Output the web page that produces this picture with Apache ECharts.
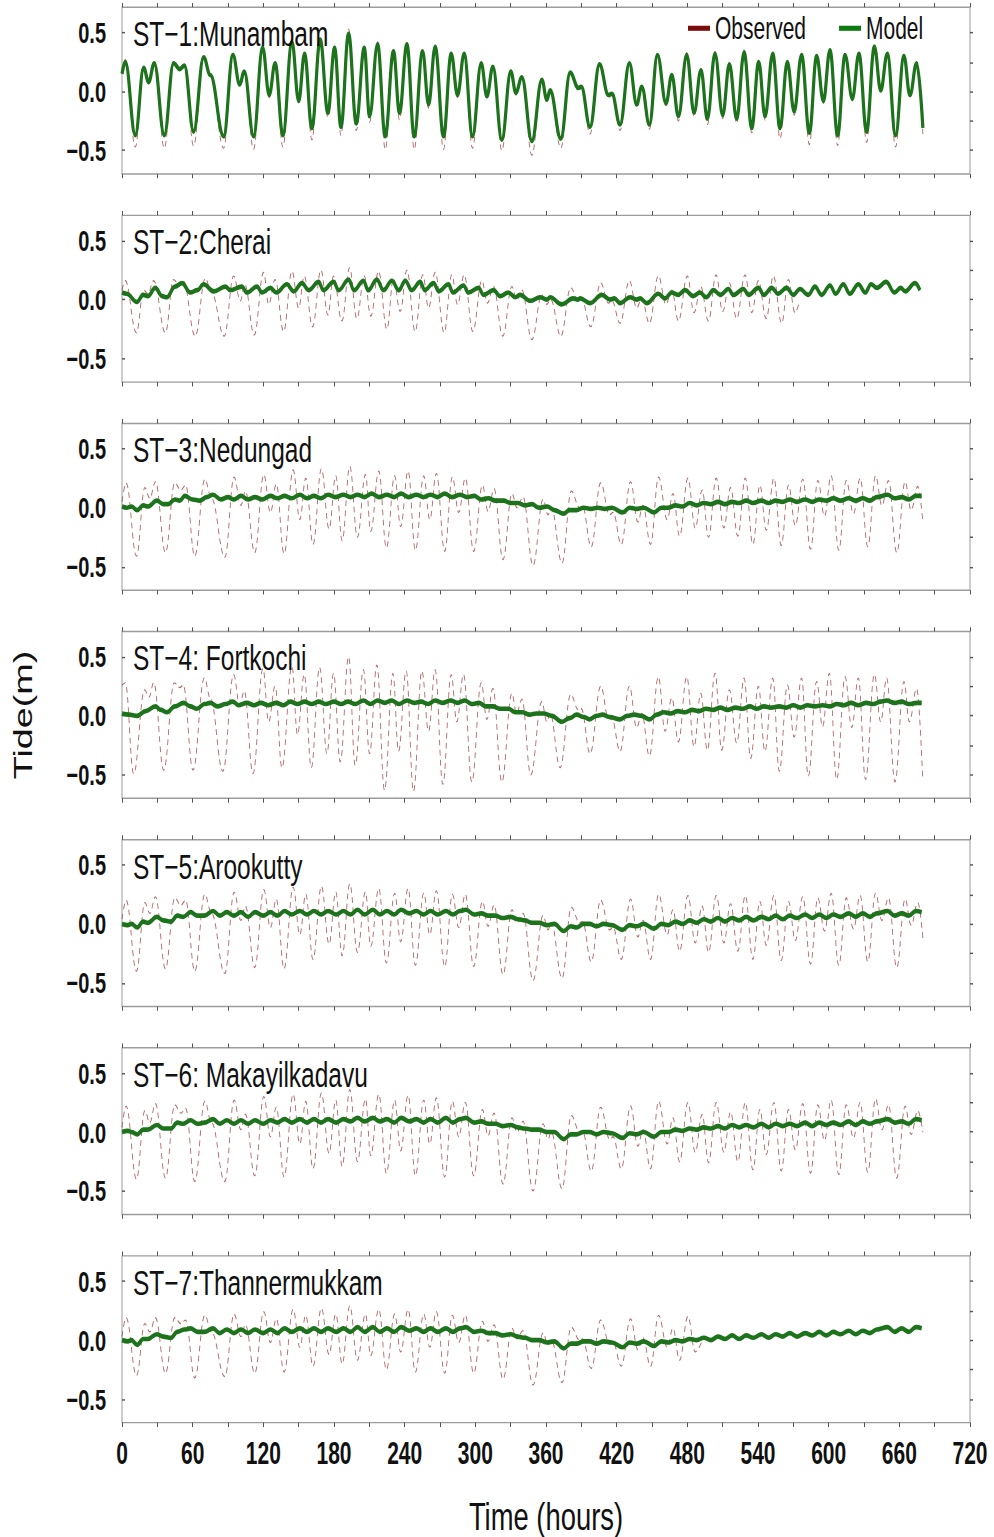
<!DOCTYPE html>
<html>
<head>
<meta charset="utf-8">
<title>Tide comparison, ST-1 to ST-7</title>
<script src="https://cdn.jsdelivr.net/npm/echarts@6/dist/echarts.min.js"></script>
<style>
  html { margin: 0; padding: 0; overflow: hidden; background: #ffffff; }
  body { margin: 0; padding: 0; width: 994px; height: 1537px; background: #ffffff; }
  /* The figure is laid out in a compressed frame and stretched vertically,
     which gives the tall lettering of the printed figure. */
  #chart { width: 994px; height: 1060px; transform: scaleY(1.45); transform-origin: 0 0; }
</style>
</head>
<body>
<div id="chart"></div>
<script>
// ---------------- axis settings and tick labels ----------------
const X_MIN = 0, X_MAX = 720, X_STEP = 60;
const Y_MIN = -0.7, Y_MAX = 0.715;
const yLabelValues = [-0.5, 0, 0.5];
const yRightTickValues = [-0.5, -0.25, 0, 0.25, 0.5];
const legendNames = ['Observed', 'Model'];
const xAxisTitle = 'Time (hours)';
const yAxisTitle = 'Tide(m)';

const stationNames = [
  'ST\u22121:Munambam',
  'ST\u22122:Cherai',
  'ST\u22123:Nedungad',
  'ST\u22124: Fortkochi',
  'ST\u22125:Arookutty',
  'ST\u22126: Makayilkadavu',
  'ST\u22127:Thannermukkam'
];

// ---------------- tide series: [hour, level (m)] at turning points ----------------
const st1Observed = [[0,0.16],[2.8,0.27],[11.3,-0.47],[18.4,0.21],[22.6,0.08],[27.4,0.25],[35.9,-0.48],[43.8,0.25],[49,0.19],[53,0.23],[60.8,-0.46],[69.3,0.30],[75,0.14],[86.3,-0.48],[94.2,0.33],[99.9,0.05],[103.8,0.18],[111.7,-0.49],[119.4,0.38],[125,-0.05],[130,0.25],[136.6,-0.47],[144.3,0.44],[150,-0.10],[155,0.33],[161.2,-0.41],[168.3,0.46],[174.8,-0.22],[180.5,0.38],[185.9,-0.37],[192.4,0.53],[198.9,-0.33],[205.7,0.38],[210.2,-0.26],[217,0.42],[223.5,-0.49],[230.5,0.35],[235.6,-0.24],[241.9,0.41],[248.1,-0.49],[255.2,0.35],[260.3,-0.14],[265.9,0.39],[273,-0.49],[279.5,0.33],[284.9,-0.05],[290.5,0.33],[297.6,-0.48],[305,0.25],[309.8,-0.06],[314.9,0.22],[322.5,-0.50],[330.1,0.18],[334.4,-0.03],[339.5,0.13],[348,-0.54],[356.5,0.11],[360.7,-0.09],[363.5,0.01],[372.6,-0.48],[380.5,0.17],[387.5,0.02],[390,0.03],[397.4,-0.36],[405.4,0.24],[413,-0.05],[416,-0.03],[422.9,-0.33],[430.8,0.25],[437,-0.13],[441.3,0.03],[447.8,-0.32],[454.6,0.33],[461.9,-0.12],[466.8,0.15],[472.4,-0.25],[479.5,0.33],[485.7,-0.21],[491.6,0.19],[497,-0.28],[503.5,0.34],[510,-0.23],[515.7,0.24],[521.9,-0.27],[528.2,0.35],[534.7,-0.35],[540.6,0.26],[546,-0.24],[552.5,0.33],[558.7,-0.40],[564.9,0.26],[570.7,-0.20],[577,0.32],[583.6,-0.45],[589.8,0.31],[595.5,-0.10],[601.1,0.36],[607.6,-0.46],[613.9,0.32],[620.1,-0.08],[625.7,0.33],[632.2,-0.43],[638.8,0.40],[644.2,0.00],[649.8,0.33],[656.8,-0.47],[663.9,0.31],[669,-0.05],[674.7,0.25],[680,-0.36]];
const st1Model = [[0,0.15],[2.8,0.25],[11.3,-0.37],[18.4,0.20],[22.6,0.08],[27.4,0.24],[35.9,-0.37],[43.8,0.24],[49,0.19],[53,0.22],[60.8,-0.34],[69.3,0.29],[75,0.14],[86.3,-0.38],[94.2,0.31],[99.9,0.06],[103.8,0.17],[111.7,-0.38],[119.4,0.37],[125,-0.03],[130,0.24],[136.6,-0.37],[144.3,0.42],[150,-0.08],[155,0.32],[161.2,-0.31],[168.3,0.44],[174.8,-0.18],[180.5,0.37],[185.9,-0.30],[192.4,0.49],[198.9,-0.27],[205.7,0.37],[210.2,-0.21],[217,0.40],[223.5,-0.38],[230.5,0.34],[235.6,-0.18],[241.9,0.40],[248.1,-0.38],[255.2,0.34],[260.3,-0.11],[265.9,0.38],[273,-0.38],[279.5,0.32],[284.9,-0.03],[290.5,0.32],[297.6,-0.38],[305,0.24],[309.8,-0.04],[314.9,0.21],[322.5,-0.41],[330.1,0.17],[334.4,-0.01],[339.5,0.12],[348,-0.42],[356.5,0.10],[360.7,-0.07],[363.5,0.01],[372.6,-0.40],[380.5,0.16],[387.5,0.03],[390,0.04],[397.4,-0.30],[405.4,0.23],[413,-0.03],[416,-0.02],[422.9,-0.28],[430.8,0.24],[437,-0.11],[441.3,0.04],[447.8,-0.28],[454.6,0.31],[461.9,-0.10],[466.8,0.14],[472.4,-0.21],[479.5,0.31],[485.7,-0.18],[491.6,0.18],[497,-0.23],[503.5,0.32],[510,-0.20],[515.7,0.23],[521.9,-0.23],[528.2,0.33],[534.7,-0.31],[540.6,0.25],[546,-0.21],[552.5,0.32],[558.7,-0.31],[564.9,0.25],[570.7,-0.17],[577,0.31],[583.6,-0.35],[589.8,0.30],[595.5,-0.08],[601.1,0.35],[607.6,-0.37],[613.9,0.31],[620.1,-0.06],[625.7,0.32],[632.2,-0.34],[638.8,0.38],[644.2,0.01],[649.8,0.32],[656.8,-0.37],[663.9,0.30],[669,-0.03],[674.7,0.24],[680,-0.31]];

const st2Observed = [[0,0.08],[2.8,0.16],[12.2,-0.28],[18.4,0.08],[22,0.05],[26.9,0.16],[36.8,-0.28],[43.8,0.17],[49,0.12],[52,0.16],[62.2,-0.31],[70.7,0.18],[76,0.06],[86.8,-0.31],[94.8,0.20],[100.5,-0.01],[104.2,0.13],[112.3,-0.30],[120.2,0.23],[124.5,-0.04],[130,0.17],[137.2,-0.27],[144.3,0.24],[150,-0.07],[154.7,0.20],[161.8,-0.23],[168.9,0.25],[174.8,-0.13],[179.6,0.20],[186.7,-0.18],[193.2,0.27],[199.4,-0.16],[205.7,0.20],[211.3,-0.14],[217.8,0.24],[224.9,-0.25],[230.5,0.18],[236.2,-0.10],[241.9,0.25],[248.9,-0.27],[255.4,0.21],[260.3,-0.07],[265.9,0.23],[273.5,-0.28],[280,0.21],[284.9,-0.04],[290.5,0.21],[297.9,-0.27],[305.5,0.16],[310.3,-0.03],[315.4,0.11],[323.3,-0.31],[331,0.11],[335.2,0.00],[339.5,0.08],[348,-0.34],[356.4,0.04],[360.7,-0.04],[364,0.00],[372.6,-0.31],[381,0.10],[387.5,-0.01],[390,0.01],[398,-0.23],[406.5,0.14],[413,-0.03],[416,-0.01],[422.9,-0.20],[430.8,0.16],[437,-0.07],[441.3,0.01],[447.8,-0.20],[455.4,0.20],[461.9,-0.04],[466.8,0.08],[472.4,-0.18],[480,0.20],[485.7,-0.11],[491.4,0.11],[497.9,-0.18],[504.4,0.21],[510,-0.10],[515.7,0.14],[521.9,-0.16],[529,0.21],[534.7,-0.11],[540.3,0.16],[547,-0.16],[553,0.20],[560.1,-0.20],[565.8,0.17],[571.4,-0.11],[575,-0.02]];
const st2Model = [[0,0.06],[4,0.05],[12.7,-0.02],[18,0.04],[22,0.03],[28.3,0.10],[34,0.03],[38,0.02],[45,0.11],[51,0.14],[58,0.06],[64,0.08],[69.3,0.13],[78,0.07],[87.7,0.11],[92,0.08],[101.8,0.11],[106,0.06],[114.6,0.11],[119,0.06],[126,0.10],[131,0.06],[140,0.13],[145.7,0.07],[152.8,0.14],[158.4,0.08],[166.9,0.15],[171,0.08],[179.6,0.15],[184,0.08],[192.4,0.17],[197,0.08],[205,0.16],[209,0.08],[216.4,0.17],[222,0.08],[229.1,0.16],[235,0.08],[240.5,0.16],[246,0.08],[253.2,0.15],[257,0.08],[264.5,0.14],[269,0.07],[277.2,0.13],[281,0.06],[290,0.12],[294,0.06],[302.7,0.10],[307,0.04],[315.4,0.08],[321,0.03],[328,0.06],[334,0.02],[338,0.04],[346.6,-0.01],[355,0.02],[360.7,0.00],[363.5,0.02],[373.4,-0.04],[383,0.01],[387,0.00],[389,0.01],[397.4,-0.03],[407.4,0.04],[414.4,0.00],[418,0.01],[422.9,-0.03],[431.4,0.02],[437,0.00],[440,0.01],[445.5,-0.03],[455.4,0.05],[461.1,0.01],[466.8,0.06],[472,0.04],[478,0.08],[485,0.03],[490.8,0.06],[496,0.02],[502.2,0.08],[508,0.04],[514.9,0.09],[519,0.04],[527.6,0.09],[532,0.04],[540.3,0.10],[545,0.04],[551.6,0.10],[557,0.05],[564.3,0.10],[570,0.04],[575.6,0.09],[582.7,0.04],[588.4,0.11],[594,0.04],[601.1,0.12],[606,0.05],[612.4,0.13],[618,0.05],[625.2,0.13],[631,0.06],[636,0.13],[641,0.10],[648.8,0.15],[655.9,0.06],[661,0.10],[665,0.07],[673.3,0.14],[677.5,0.08]];

const st3Observed = [[0,0.05],[3.5,0.21],[12.3,-0.41],[19.4,0.17],[23.6,0.08],[28.4,0.22],[36.9,-0.38],[44.8,0.21],[50,0.15],[54,0.19],[61.8,-0.41],[70.3,0.24],[76,0.08],[87.3,-0.42],[95.2,0.26],[100.9,0.02],[104.8,0.14],[112.7,-0.38],[120.4,0.28],[126,-0.04],[131,0.20],[137.6,-0.39],[145.3,0.32],[151,-0.10],[156,0.25],[162.2,-0.31],[169.3,0.33],[175.8,-0.18],[181.5,0.27],[186.9,-0.28],[193.4,0.35],[199.9,-0.25],[206.7,0.28],[211.2,-0.20],[218,0.31],[224.5,-0.34],[231.5,0.27],[236.6,-0.16],[242.9,0.31],[249.1,-0.36],[256.2,0.27],[261.3,-0.10],[266.9,0.29],[274,-0.37],[280.5,0.26],[285.9,-0.04],[291.5,0.25],[298.6,-0.37],[306,0.19],[310.8,-0.03],[315.9,0.16],[323.5,-0.44],[331.1,0.12],[335.4,0.00],[340.5,0.09],[349,-0.49],[357.5,0.07],[361.7,-0.06],[364.5,0.00],[373.6,-0.47],[381.5,0.14],[388.5,0.00],[391,0.01],[398.4,-0.33],[406.4,0.21],[414,-0.06],[417,-0.04],[423.9,-0.31],[431.8,0.22],[438,-0.12],[442.3,0.02],[448.8,-0.31],[455.6,0.26],[462.9,-0.10],[467.8,0.12],[473.4,-0.24],[480.5,0.25],[486.7,-0.17],[492.6,0.15],[498,-0.25],[504.5,0.25],[511,-0.17],[516.7,0.17],[522.9,-0.24],[529.2,0.25],[535.7,-0.31],[541.6,0.19],[547,-0.19],[553.5,0.25],[559.7,-0.32],[565.9,0.19],[571.7,-0.15],[578,0.24],[584.6,-0.35],[590.8,0.23],[596.5,-0.07],[602.1,0.27],[608.6,-0.36],[614.9,0.23],[621.1,-0.05],[626.7,0.25],[633.2,-0.33],[639.8,0.27],[645.2,0.02],[650.8,0.23],[657.8,-0.38],[664.9,0.22],[670,-0.02],[675.7,0.18],[680,-0.13]];
const st3Model = [[0,0.01],[4,0.00],[8,0.01],[12.9,-0.02],[18,0.02],[22,0.01],[29.6,0.06],[35,0.03],[39,0.03],[45,0.07],[49,0.06],[53.4,0.10],[60,0.07],[66,0.06],[72,0.09],[77.3,0.11],[84,0.07],[90,0.09],[95,0.07],[101,0.10],[107,0.07],[113,0.09],[119,0.07],[126,0.10],[132,0.08],[138,0.10],[144,0.08],[151,0.11],[157,0.08],[163,0.10],[169,0.08],[175,0.11],[181,0.09],[188,0.11],[194,0.09],[200,0.11],[206,0.09],[212,0.12],[218,0.09],[225,0.11],[231,0.09],[237,0.12],[243,0.09],[250,0.11],[256,0.09],[262,0.11],[268,0.09],[274,0.12],[280,0.09],[287,0.11],[293,0.09],[299,0.10],[305,0.07],[311,0.08],[317,0.06],[324,0.06],[330,0.04],[336,0.04],[342,0.02],[348,0.03],[354,0.00],[361,0.01],[367,-0.02],[375,-0.05],[380,-0.02],[386,-0.02],[392,0.00],[398,-0.01],[404,0.00],[410,-0.01],[416,0.00],[425,-0.04],[431,0.00],[437,-0.01],[443,0.00],[451.6,-0.04],[458,0.00],[464,0.00],[470,0.02],[476,0.01],[482,0.04],[488,0.02],[494,0.04],[500,0.03],[506,0.05],[512,0.03],[518,0.05],[524,0.04],[530,0.06],[536,0.04],[543,0.06],[549,0.04],[555,0.06],[561,0.05],[567,0.07],[573,0.05],[580,0.07],[586,0.05],[592,0.07],[598,0.06],[604,0.08],[610,0.06],[617,0.08],[623,0.06],[629,0.08],[635,0.06],[641,0.09],[650,0.11],[656,0.08],[662,0.09],[668,0.07],[674,0.10],[679,0.10]];

const st4Observed = [[0,0.26],[2.8,0.28],[9.9,-0.49],[19.2,0.22],[23,0.16],[26.9,0.28],[35.4,-0.46],[44.4,0.28],[49,0.24],[52,0.26],[60.3,-0.46],[69.9,0.32],[75,0.15],[85.7,-0.47],[94.8,0.35],[99.9,0.09],[103.8,0.21],[111.2,-0.49],[119.7,0.40],[124.5,-0.05],[130,0.25],[135.8,-0.44],[144.3,0.42],[149,-0.16],[154.7,0.35],[160.7,-0.44],[167.8,0.41],[174,-0.32],[179.6,0.36],[185.3,-0.39],[192.4,0.50],[198,-0.42],[205,0.39],[210.2,-0.32],[216.4,0.43],[222.9,-0.63],[230,0.36],[234.8,-0.30],[241.3,0.38],[247.5,-0.64],[254.6,0.38],[260.3,-0.13],[265.9,0.39],[272.4,-0.58],[279.5,0.35],[284.3,-0.05],[290,0.35],[297,-0.56],[305,0.28],[309.8,-0.03],[314.9,0.23],[322.5,-0.56],[331,0.19],[335,0.02],[339.5,0.14],[347.1,-0.50],[356.4,0.12],[360.7,-0.05],[363.5,0.02],[372,-0.44],[381,0.18],[387.5,0.05],[390,0.06],[397.4,-0.32],[406.5,0.25],[413,-0.02],[416,-0.03],[422.9,-0.30],[430.8,0.25],[437,-0.10],[441.3,0.02],[447.8,-0.34],[455.4,0.33],[461.1,-0.13],[466.8,0.15],[472.4,-0.22],[479.5,0.33],[485.7,-0.26],[491.4,0.19],[497,-0.29],[503.5,0.36],[509.2,-0.29],[515.7,0.22],[521.9,-0.23],[528.2,0.32],[533.8,-0.36],[540.3,0.25],[545.9,-0.30],[552.5,0.32],[558.1,-0.47],[565,0.26],[570.7,-0.18],[577,0.32],[582.7,-0.51],[589.8,0.29],[594.8,-0.09],[600.6,0.36],[606.8,-0.54],[613.9,0.33],[619.6,-0.10],[625.2,0.32],[631.3,-0.54],[638.8,0.35],[644.2,-0.05],[649.2,0.32],[656.3,-0.56],[663.9,0.29],[668.5,-0.05],[674.7,0.23],[679.8,-0.53]];
const st4Model = [[0,0.02],[6,0.01],[12.7,0.00],[20,0.04],[28.3,0.08],[33,0.05],[38.2,0.03],[45,0.08],[52.3,0.11],[58,0.08],[63.6,0.06],[70,0.10],[75,0.11],[81,0.08],[88,0.10],[94,0.12],[99,0.09],[106,0.11],[112,0.09],[118,0.11],[124,0.09],[131,0.11],[137,0.09],[143,0.12],[149,0.10],[155,0.12],[161,0.10],[167,0.12],[173,0.10],[180,0.12],[186,0.10],[192,0.12],[198,0.10],[205,0.13],[211,0.10],[217,0.13],[223,0.11],[229,0.13],[235,0.10],[242,0.13],[248,0.11],[254,0.12],[260,0.10],[266,0.13],[272,0.11],[279,0.13],[285,0.11],[291,0.13],[297,0.10],[303,0.11],[309,0.08],[315,0.08],[321,0.06],[328,0.06],[334,0.03],[340,0.03],[346,0.01],[352,0.02],[358,0.02],[365,0.00],[373.4,-0.05],[380,-0.02],[386,0.01],[392,-0.01],[397,-0.03],[403,0.00],[408,0.01],[414,-0.01],[423,-0.03],[429,0.00],[435,0.01],[441,0.00],[448,-0.03],[454,0.01],[460,0.03],[466,0.02],[472,0.04],[478,0.03],[484,0.05],[490,0.04],[496,0.06],[502,0.05],[508,0.07],[514,0.05],[521,0.07],[527,0.06],[533,0.08],[539,0.06],[545,0.08],[551,0.07],[558,0.08],[564,0.07],[570,0.09],[576,0.07],[582,0.09],[588,0.08],[595,0.09],[601,0.08],[607,0.10],[613,0.09],[619,0.11],[625,0.09],[632,0.11],[638,0.10],[644,0.12],[649,0.13],[656,0.11],[662,0.12],[668,0.10],[675,0.11],[679,0.11]];

const st5Observed = [[0,0.04],[3.5,0.20],[12.3,-0.40],[19.4,0.18],[23.6,0.09],[28.4,0.23],[36.9,-0.38],[44.8,0.22],[50,0.16],[54,0.20],[61.8,-0.40],[70.3,0.25],[76,0.09],[87.3,-0.42],[95.2,0.27],[100.9,0.03],[104.8,0.15],[112.7,-0.37],[120.4,0.29],[126,-0.03],[131,0.21],[137.6,-0.38],[145.3,0.31],[151,-0.09],[156,0.25],[162.2,-0.30],[169.3,0.32],[175.8,-0.17],[181.5,0.27],[186.9,-0.27],[193.4,0.34],[199.9,-0.24],[206.7,0.27],[211.2,-0.19],[218,0.30],[224.5,-0.33],[231.5,0.26],[236.6,-0.15],[242.9,0.30],[249.1,-0.35],[256.2,0.26],[261.3,-0.09],[266.9,0.28],[274,-0.36],[280.5,0.25],[285.9,-0.03],[291.5,0.25],[298.6,-0.36],[306,0.19],[310.8,-0.02],[315.9,0.16],[323.5,-0.43],[331.1,0.12],[335.4,0.01],[340.5,0.09],[349,-0.48],[357.5,0.07],[361.7,-0.05],[364.5,0.01],[373.6,-0.46],[381.5,0.14],[388.5,0.01],[391,0.02],[398.4,-0.32],[406.4,0.20],[414,-0.05],[417,-0.03],[423.9,-0.30],[431.8,0.21],[438,-0.11],[442.3,0.03],[448.8,-0.30],[455.6,0.25],[462.9,-0.09],[467.8,0.12],[473.4,-0.23],[480.5,0.24],[486.7,-0.16],[492.6,0.15],[498,-0.24],[504.5,0.24],[511,-0.16],[516.7,0.17],[522.9,-0.23],[529.2,0.24],[535.7,-0.30],[541.6,0.19],[547,-0.18],[553.5,0.24],[559.7,-0.31],[565.9,0.19],[571.7,-0.14],[578,0.23],[584.6,-0.34],[590.8,0.22],[596.5,-0.06],[602.1,0.26],[608.6,-0.35],[614.9,0.22],[621.1,-0.04],[626.7,0.24],[633.2,-0.32],[639.8,0.26],[645.2,0.03],[650.8,0.22],[657.8,-0.37],[664.9,0.21],[670,-0.01],[675.7,0.18],[680,-0.12]];
const st5Model = [[0,0.00],[5,-0.01],[8,0.00],[12.9,-0.03],[18,0.02],[22,0.01],[29.6,0.06],[35,0.03],[41.5,0.02],[47,0.07],[52,0.06],[58.2,0.10],[64,0.07],[70,0.07],[77.3,0.11],[83,0.07],[89,0.10],[95,0.07],[101,0.10],[107,0.06],[113,0.10],[120,0.07],[126,0.10],[132,0.07],[138,0.11],[144,0.08],[151,0.11],[157,0.08],[163,0.11],[169,0.08],[175,0.11],[182,0.08],[188,0.11],[194,0.08],[200,0.12],[206,0.08],[213,0.12],[219,0.08],[225,0.11],[231,0.08],[237,0.12],[244,0.09],[250,0.11],[256,0.08],[262,0.11],[268,0.08],[275,0.11],[281,0.08],[287,0.11],[292,0.12],[299,0.08],[305,0.09],[311,0.07],[317,0.07],[323,0.05],[330,0.06],[336,0.04],[342,0.03],[348,0.01],[354,0.01],[361,-0.01],[367,0.00],[375,-0.06],[381,-0.02],[386,-0.03],[392,0.00],[397,0.00],[403,-0.02],[409,0.00],[416,-0.01],[425,-0.05],[431,-0.01],[437,-0.02],[443,0.00],[451.6,-0.04],[458,0.00],[464,-0.01],[470,0.02],[476,0.00],[482,0.03],[488,0.01],[494,0.04],[500,0.02],[506,0.05],[512,0.02],[518,0.05],[524,0.03],[530,0.06],[536,0.03],[543,0.06],[549,0.04],[555,0.07],[561,0.04],[567,0.07],[573,0.05],[580,0.08],[586,0.05],[592,0.08],[598,0.05],[604,0.08],[610,0.06],[617,0.09],[623,0.06],[629,0.09],[635,0.06],[641,0.09],[650,0.11],[656,0.07],[662,0.09],[668,0.07],[674,0.11],[679,0.10]];

const st6Observed = [[0,0.04],[3.5,0.22],[12.3,-0.40],[19.4,0.18],[23.6,0.08],[28.4,0.24],[36.9,-0.39],[44.8,0.23],[50,0.16],[54,0.20],[61.8,-0.42],[70.3,0.26],[76,0.08],[87.3,-0.42],[95.2,0.27],[100.9,0.02],[104.8,0.15],[112.7,-0.37],[120.4,0.30],[126,-0.04],[131,0.21],[137.6,-0.38],[145.3,0.32],[151,-0.10],[156,0.26],[162.2,-0.31],[169.3,0.33],[175.8,-0.18],[181.5,0.27],[186.9,-0.29],[193.4,0.36],[199.9,-0.25],[206.7,0.28],[211.2,-0.20],[218,0.32],[224.5,-0.35],[231.5,0.27],[236.6,-0.16],[242.9,0.31],[249.1,-0.37],[256.2,0.27],[261.3,-0.10],[266.9,0.29],[274,-0.38],[280.5,0.26],[285.9,-0.04],[291.5,0.25],[298.6,-0.37],[306,0.19],[310.8,-0.03],[315.9,0.16],[323.5,-0.44],[331.1,0.12],[335.4,0.00],[340.5,0.09],[349,-0.50],[357.5,0.07],[361.7,-0.06],[364.5,0.00],[373.6,-0.48],[381.5,0.14],[388.5,0.00],[391,0.01],[398.4,-0.33],[406.4,0.21],[414,-0.06],[417,-0.04],[423.9,-0.31],[431.8,0.22],[438,-0.12],[442.3,0.02],[448.8,-0.31],[455.6,0.26],[462.9,-0.10],[467.8,0.12],[473.4,-0.25],[480.5,0.25],[486.7,-0.17],[492.6,0.15],[498,-0.26],[504.5,0.25],[511,-0.17],[516.7,0.17],[522.9,-0.25],[529.2,0.25],[535.7,-0.32],[541.6,0.19],[547,-0.19],[553.5,0.25],[559.7,-0.33],[565.9,0.19],[571.7,-0.15],[578,0.24],[584.6,-0.35],[590.8,0.23],[596.5,-0.07],[602.1,0.27],[608.6,-0.36],[614.9,0.23],[621.1,-0.05],[626.7,0.25],[633.2,-0.34],[639.8,0.28],[645.2,0.02],[650.8,0.23],[657.8,-0.39],[664.9,0.22],[670,-0.02],[675.7,0.18],[680,0.00]];
const st6Model = [[0,0.00],[5,0.01],[8,0.00],[12.9,-0.02],[18,0.02],[22,0.02],[29.6,0.06],[35,0.03],[41.5,0.03],[47,0.08],[52,0.07],[58.2,0.10],[64,0.07],[70,0.08],[77.3,0.11],[83,0.07],[89,0.10],[95,0.07],[101,0.10],[107,0.07],[113,0.10],[120,0.07],[126,0.10],[132,0.08],[138,0.11],[144,0.08],[151,0.11],[157,0.08],[163,0.11],[169,0.08],[175,0.11],[182,0.08],[188,0.11],[194,0.09],[200,0.12],[206,0.09],[213,0.12],[219,0.09],[225,0.11],[231,0.08],[237,0.12],[244,0.09],[250,0.11],[256,0.08],[262,0.11],[268,0.08],[275,0.12],[281,0.08],[287,0.11],[292,0.12],[299,0.08],[305,0.09],[311,0.07],[317,0.07],[323,0.05],[330,0.06],[336,0.04],[342,0.03],[348,0.02],[354,0.02],[361,0.00],[367,0.00],[375,-0.06],[381,-0.02],[386,-0.02],[392,0.00],[397,0.00],[403,-0.02],[409,0.00],[416,-0.01],[425,-0.05],[431,-0.01],[437,-0.02],[443,0.00],[451.6,-0.04],[458,0.00],[464,0.00],[470,0.02],[476,0.01],[482,0.03],[488,0.02],[494,0.04],[500,0.03],[506,0.05],[512,0.03],[518,0.06],[524,0.04],[530,0.06],[536,0.04],[543,0.07],[549,0.04],[555,0.07],[561,0.05],[567,0.07],[573,0.05],[580,0.08],[586,0.05],[592,0.08],[598,0.06],[604,0.08],[610,0.06],[617,0.09],[623,0.06],[629,0.09],[635,0.07],[641,0.09],[650,0.11],[656,0.08],[662,0.09],[668,0.07],[674,0.11],[679,0.10]];

const st7Observed = [[0,0.03],[3.5,0.19],[12.3,-0.30],[19.4,0.14],[23.6,0.07],[28.4,0.19],[36.9,-0.28],[44.8,0.19],[50,0.14],[54,0.17],[61.8,-0.32],[70.3,0.21],[76,0.07],[87.3,-0.31],[95.2,0.22],[100.9,0.03],[104.8,0.13],[112.7,-0.28],[120.4,0.24],[126,-0.02],[131,0.18],[137.6,-0.27],[145.3,0.26],[151,-0.06],[156,0.21],[162.2,-0.22],[169.3,0.27],[175.8,-0.12],[181.5,0.22],[186.9,-0.20],[193.4,0.29],[199.9,-0.17],[206.7,0.22],[211.2,-0.13],[218,0.26],[224.5,-0.25],[231.5,0.22],[236.6,-0.10],[242.9,0.26],[249.1,-0.27],[256.2,0.22],[261.3,-0.06],[266.9,0.24],[274,-0.28],[280.5,0.21],[285.9,-0.02],[291.5,0.21],[298.6,-0.28],[306,0.16],[310.8,-0.01],[315.9,0.13],[323.5,-0.33],[331.1,0.10],[335.4,0.01],[340.5,0.08],[349,-0.38],[357.5,0.06],[361.7,-0.04],[364.5,0.00],[373.6,-0.36],[381.5,0.11],[388.5,0.00],[391,0.01],[398.4,-0.24],[406.4,0.17],[414,-0.03],[417,-0.02],[423.9,-0.22],[431.8,0.18],[438,-0.08],[442.3,0.02],[448.8,-0.22],[455.6,0.21],[462.9,-0.06],[467.8,0.10],[473.4,-0.17],[480.5,0.20],[486.7,-0.10],[492,-0.02]];
const st7Model = [[0,0.00],[5,-0.01],[8,0.00],[12.9,-0.04],[18,0.01],[22,0.01],[29.6,0.05],[35,0.03],[41.5,0.02],[47,0.07],[53,0.09],[58.2,0.10],[64,0.07],[70,0.07],[77.3,0.10],[83,0.06],[89,0.09],[95,0.06],[101,0.09],[107,0.06],[113,0.09],[120,0.06],[126,0.09],[132,0.06],[138,0.10],[144,0.07],[151,0.10],[157,0.07],[163,0.10],[169,0.07],[175,0.10],[182,0.07],[188,0.10],[194,0.07],[200,0.11],[206,0.07],[213,0.11],[219,0.07],[225,0.10],[231,0.07],[237,0.11],[244,0.08],[250,0.10],[256,0.07],[262,0.10],[268,0.07],[275,0.10],[281,0.07],[287,0.10],[292,0.11],[299,0.07],[305,0.08],[311,0.06],[317,0.06],[323,0.04],[330,0.05],[336,0.03],[342,0.02],[348,0.00],[354,0.00],[361,-0.02],[367,-0.01],[375,-0.07],[381,-0.03],[386,-0.03],[392,-0.01],[397,-0.01],[403,-0.03],[409,-0.01],[416,-0.02],[425,-0.06],[431,-0.02],[437,-0.03],[443,-0.01],[451.6,-0.05],[458,-0.01],[464,-0.02],[470,0.00],[476,-0.01],[482,0.01],[488,0.00],[494,0.02],[500,0.00],[506,0.03],[512,0.01],[518,0.04],[524,0.01],[530,0.04],[536,0.02],[543,0.05],[549,0.02],[555,0.05],[561,0.03],[567,0.06],[573,0.03],[580,0.06],[586,0.04],[592,0.07],[598,0.04],[604,0.07],[610,0.05],[617,0.08],[623,0.05],[629,0.08],[635,0.06],[641,0.09],[650,0.11],[656,0.07],[662,0.10],[668,0.07],[674,0.11],[679,0.10]];

const observedSets = [st1Observed, st2Observed, st3Observed, st4Observed, st5Observed, st6Observed, st7Observed];
const modelSets = [st1Model, st2Model, st3Model, st4Model, st5Model, st6Model, st7Model];

// ---------------- layout (frame units, before the vertical stretch) ----------------
const PANEL_TOP0 = 5.0;
const PANEL_STEP = 143.52;
const PANEL_H = 115.0;
const GRID_LEFT = 122;
const GRID_RIGHT = 24;
const FONT = '"Liberation Sans", Arial, Helvetica, sans-serif';
const INK = '#111111';
const FRAME = '#9c9c9c';
const TICK = '#555555';
const OBS_LINE = 'rgba(160, 62, 62, 0.78)';
const OBS_KEY = '#7a0c0c';
const MODEL_LINE = '#1c731c';
const MODEL_KEY = '#0d7a0d';

const fmtLevel = v => (v < 0 ? '\u2212' : '') + Math.abs(v).toFixed(1);

const grids = [], xAxes = [], yAxes = [], titles = [], series = [];
const nPanels = stationNames.length;

for (let k = 0; k < nPanels; k++) {
  const top = PANEL_TOP0 + PANEL_STEP * k;
  grids.push({
    left: GRID_LEFT, right: GRID_RIGHT, top: top, height: PANEL_H,
    show: true, borderColor: FRAME, borderWidth: 1, backgroundColor: 'transparent',
    containLabel: false, outerBoundsMode: 'none'
  });
  titles.push({
    text: stationNames[k], left: 133, top: top + 5.5, padding: 0,
    textStyle: { fontFamily: FONT, fontSize: 24.5, fontWeight: 'normal', color: INK }
  });
}

const tickStyle = { color: TICK, width: 1 };

// bottom time axes (labels only under the last panel)
for (let k = 0; k < nPanels; k++) {
  const last = k === nPanels - 1;
  xAxes.push({
    type: 'value', gridIndex: k, position: 'bottom',
    min: X_MIN, max: X_MAX, interval: X_STEP,
    axisLine: { show: false, onZero: false },
    axisTick: { show: true, length: 3, lineStyle: tickStyle },
    minorTick: { show: true, splitNumber: 2, length: 3, lineStyle: tickStyle },
    splitLine: { show: false }, minorSplitLine: { show: false },
    axisLabel: { show: last, margin: 11, fontFamily: FONT, fontSize: 21, fontWeight: 'bold', color: INK },
    name: last ? xAxisTitle : '', nameLocation: 'middle', nameGap: 51,
    nameTextStyle: { fontFamily: FONT, fontSize: 27.4, color: INK }
  });
}
// top tick rows
for (let k = 0; k < nPanels; k++) {
  xAxes.push({
    type: 'value', gridIndex: k, position: 'top',
    min: X_MIN, max: X_MAX, interval: X_STEP,
    axisLine: { show: false, onZero: false },
    axisTick: { show: true, length: 3, lineStyle: tickStyle },
    minorTick: { show: true, splitNumber: 2, length: 3, lineStyle: tickStyle },
    splitLine: { show: false }, minorSplitLine: { show: false },
    axisLabel: { show: false }
  });
}
// left level axes
for (let k = 0; k < nPanels; k++) {
  yAxes.push({
    type: 'value', gridIndex: k, position: 'left',
    min: Y_MIN, max: Y_MAX,
    axisLine: { show: false, onZero: false },
    axisTick: { show: true, inside: true, length: 3, customValues: yLabelValues, lineStyle: tickStyle },
    splitLine: { show: false },
    axisLabel: {
      customValues: yLabelValues, formatter: fmtLevel, margin: 16,
      fontFamily: FONT, fontSize: 20, fontWeight: 'bold', color: INK
    },
    name: k === 3 ? yAxisTitle : '', nameLocation: 'middle', nameGap: 86, nameRotate: 90,
    nameTextStyle: { fontFamily: FONT, fontSize: 26, color: INK }
  });
}
// right tick columns
for (let k = 0; k < nPanels; k++) {
  yAxes.push({
    type: 'value', gridIndex: k, position: 'right',
    min: Y_MIN, max: Y_MAX,
    axisLine: { show: false, onZero: false },
    axisTick: { show: true, length: 3, customValues: yRightTickValues, lineStyle: tickStyle },
    splitLine: { show: false },
    axisLabel: { show: false }
  });
}

for (let k = 0; k < nPanels; k++) {
  series.push({
    type: 'line', name: legendNames[0], xAxisIndex: k, yAxisIndex: k,
    data: observedSets[k], showSymbol: false, symbol: 'none',
    smooth: 0.4, smoothMonotone: 'x', silent: true, z: 2,
    itemStyle: { color: OBS_KEY },
    lineStyle: { color: OBS_LINE, width: 0.9, type: [4, 3] }
  });
  series.push({
    type: 'line', name: legendNames[1], xAxisIndex: k, yAxisIndex: k,
    data: modelSets[k], showSymbol: false, symbol: 'none',
    smooth: 0.4, smoothMonotone: 'x', silent: true, z: 3,
    itemStyle: { color: MODEL_KEY },
    lineStyle: { color: MODEL_LINE, width: 3.2 }
  });
}

const chart = echarts.init(document.getElementById('chart'), null, { renderer: 'svg' });
chart.setOption({
  animation: false,
  backgroundColor: '#ffffff',
  textStyle: { fontFamily: FONT },
  title: titles,
  legend: {
    data: [
      { name: legendNames[0], itemStyle: { color: OBS_KEY } },
      { name: legendNames[1], itemStyle: { color: MODEL_KEY } }
    ],
    left: 688, top: 9, padding: 0, orient: 'horizontal',
    icon: 'rect', itemWidth: 22, itemHeight: 3.5, itemGap: 33,
    selectedMode: false,
    textStyle: { fontFamily: FONT, fontSize: 21, color: INK }
  },
  grid: grids,
  xAxis: xAxes,
  yAxis: yAxes,
  series: series
});
</script>
</body>
</html>
